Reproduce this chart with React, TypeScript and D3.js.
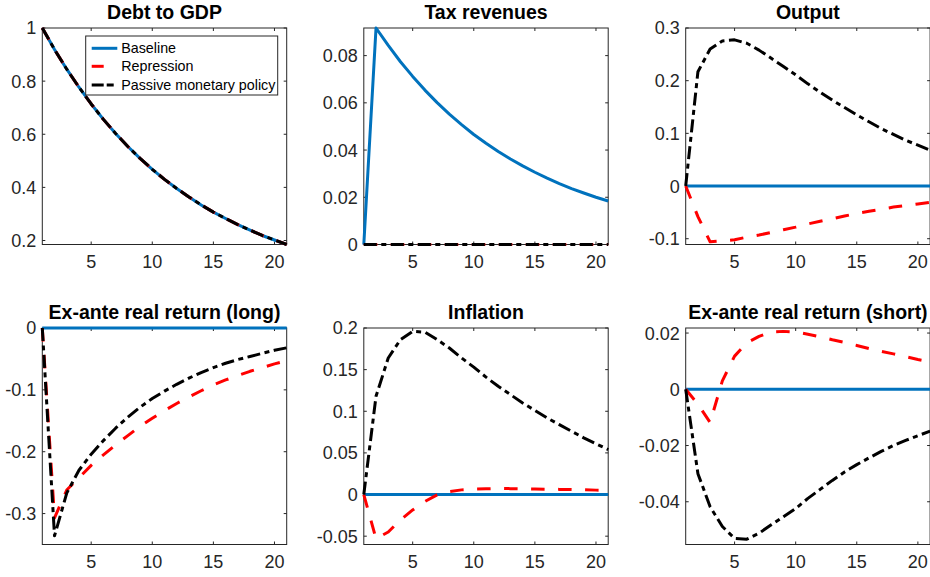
import React, { useEffect, useRef } from 'react';
import * as d3 from 'd3';

// horizon (quarters)
const periods = [1, 2, 3, 4, 5, 6, 7, 8, 9, 10, 11, 12, 13, 14, 15, 16, 17, 18, 19, 20, 21];
const xTicks = [5, 10, 15, 20];

const seriesNames = ['Baseline', 'Repression', 'Passive monetary policy'];

const zeros = [0, 0, 0, 0, 0, 0, 0, 0, 0, 0, 0, 0, 0, 0, 0, 0, 0, 0, 0, 0, 0];

// Debt to GDP (all three scenarios coincide)
const debtPath = [1, 0.919, 0.845, 0.777, 0.714, 0.656, 0.603, 0.554, 0.509, 0.468, 0.43, 0.396, 0.364, 0.334, 0.307, 0.283, 0.26, 0.239, 0.219, 0.202, 0.185];

// Tax revenues
const taxBaseline = [0, 0.0917, 0.0843, 0.0774, 0.0712, 0.0654, 0.0601, 0.0552, 0.0508, 0.0466, 0.0429, 0.0394, 0.0362, 0.0333, 0.0306, 0.0281, 0.0258, 0.0237, 0.0218, 0.02, 0.0184];

// Output
const outputRepression = [0, -0.058, -0.106, -0.104, -0.102, -0.097, -0.093, -0.088, -0.083, -0.078, -0.072, -0.067, -0.062, -0.057, -0.052, -0.048, -0.044, -0.04, -0.037, -0.034, -0.031];
const outputPassive = [0, 0.217, 0.26, 0.2755, 0.2775, 0.271, 0.258, 0.2425, 0.227, 0.211, 0.194, 0.178, 0.163, 0.149, 0.135, 0.122, 0.109, 0.098, 0.087, 0.0775, 0.068];

// Ex-ante real return (long)
const longRepression = [0, -0.307, -0.262, -0.242, -0.222, -0.205, -0.189, -0.174, -0.159, -0.146, -0.1335, -0.122, -0.1115, -0.1015, -0.092, -0.084, -0.077, -0.07, -0.064, -0.058, -0.053];
const longPassive = [0, -0.336, -0.267, -0.23, -0.204, -0.182, -0.162, -0.144, -0.128, -0.114, -0.102, -0.091, -0.081, -0.072, -0.064, -0.057, -0.051, -0.046, -0.041, -0.036, -0.032];

// Inflation
const inflRepression = [0, -0.053, -0.045, -0.0305, -0.0185, -0.0084, -0.0004, 0.0036, 0.0056, 0.0064, 0.0069, 0.0072, 0.0071, 0.0068, 0.0066, 0.0064, 0.0062, 0.006, 0.0057, 0.0053, 0.005];
const inflPassive = [0, 0.118, 0.164, 0.186, 0.196, 0.195, 0.186, 0.176, 0.164, 0.153, 0.141, 0.13, 0.12, 0.11, 0.101, 0.092, 0.084, 0.076, 0.068, 0.061, 0.054];

// Ex-ante real return (short)
const shortRepression = [0, -0.0053, -0.0118, 0.003, 0.0118, 0.0165, 0.0188, 0.0204, 0.0206, 0.0204, 0.0196, 0.0187, 0.0176, 0.0167, 0.0156, 0.0145, 0.0135, 0.0126, 0.0116, 0.0106, 0.0098];
const shortPassive = [0, -0.03, -0.0418, -0.0488, -0.053, -0.0533, -0.0512, -0.0482, -0.0453, -0.0424, -0.0388, -0.0356, -0.0324, -0.0294, -0.0268, -0.0244, -0.0221, -0.02, -0.0182, -0.0165, -0.0149];

const panels = [
  { title: 'Debt to GDP', yDomain: [0.185, 1], yTicks: [0.2, 0.4, 0.6, 0.8, 1], series: [debtPath, debtPath, debtPath] },
  { title: 'Tax revenues', yDomain: [0, 0.0917], yTicks: [0, 0.02, 0.04, 0.06, 0.08], series: [taxBaseline, zeros, zeros] },
  { title: 'Output', yDomain: [-0.111, 0.3], yTicks: [-0.1, 0, 0.1, 0.2, 0.3], series: [zeros, outputRepression, outputPassive] },
  { title: 'Ex-ante real return (long)', yDomain: [-0.35, 0], yTicks: [-0.3, -0.2, -0.1, 0], series: [zeros, longRepression, longPassive] },
  { title: 'Inflation', yDomain: [-0.06, 0.2], yTicks: [-0.05, 0, 0.05, 0.1, 0.15, 0.2], series: [zeros, inflRepression, inflPassive] },
  { title: 'Ex-ante real return (short)', yDomain: [-0.0552, 0.0218], yTicks: [-0.04, -0.02, 0, 0.02], series: [zeros, shortRepression, shortPassive] },
];

const W = 930;
const H = 577;
const colLeft = [42.3, 363.8, 685.7];
const rowTop = [28, 328];
const plotW = 244.4;
const plotH = 216.5;

const colors = ['#0072BD', '#FF0000', '#000000'];
const dashes = [null, '13.5,13.5', '13,4.5,5,4.5'];
const axisColor = '#262626';
const font = "'Liberation Sans', Arial, Helvetica, sans-serif";

const App = () => {
  const ref = useRef<SVGSVGElement>(null);

  useEffect(() => {
    const svg = d3.select(ref.current);
    svg.selectAll('*').remove();

    panels.forEach((p, i) => {
      const left = colLeft[i % 3];
      const top = rowTop[Math.floor(i / 3)];

      const x = d3.scaleLinear().domain([1, 21]).range([0, plotW]);
      const y = d3.scaleLinear().domain(p.yDomain).range([plotH, 0]);

      const g = svg.append('g').attr('transform', `translate(${left},${top})`);

      // box
      g.append('rect')
        .attr('width', plotW)
        .attr('height', plotH)
        .attr('fill', 'white')
        .attr('stroke', axisColor)
        .attr('stroke-width', 1);

      // ticks, inward on all four sides
      const tl = 3;
      xTicks.forEach((t) => {
        g.append('line').attr('x1', x(t)).attr('x2', x(t)).attr('y1', plotH).attr('y2', plotH - tl).attr('stroke', axisColor);
        g.append('line').attr('x1', x(t)).attr('x2', x(t)).attr('y1', 0).attr('y2', tl).attr('stroke', axisColor);
        g.append('text')
          .attr('x', x(t))
          .attr('y', plotH + 23)
          .attr('text-anchor', 'middle')
          .attr('font-family', font)
          .attr('font-size', 18)
          .attr('fill', axisColor)
          .text(String(t));
      });
      p.yTicks.forEach((t) => {
        g.append('line').attr('x1', 0).attr('x2', tl).attr('y1', y(t)).attr('y2', y(t)).attr('stroke', axisColor);
        g.append('line').attr('x1', plotW).attr('x2', plotW - tl).attr('y1', y(t)).attr('y2', y(t)).attr('stroke', axisColor);
        g.append('text')
          .attr('x', -6)
          .attr('y', y(t))
          .attr('dy', '0.36em')
          .attr('text-anchor', 'end')
          .attr('font-family', font)
          .attr('font-size', 18)
          .attr('fill', axisColor)
          .text(String(t));
      });

      // lines
      p.series.forEach((vals, k) => {
        const line = d3.line<number>()
          .x((_, j) => x(periods[j]))
          .y((d) => y(d));
        const path = g.append('path')
          .datum(vals)
          .attr('d', line)
          .attr('fill', 'none')
          .attr('stroke', colors[k])
          .attr('stroke-width', 3)
          .attr('stroke-linejoin', 'round');
        if (dashes[k]) path.attr('stroke-dasharray', dashes[k] as string);
      });

      // title
      g.append('text')
        .attr('x', plotW / 2)
        .attr('y', -9)
        .attr('text-anchor', 'middle')
        .attr('font-family', font)
        .attr('font-weight', 'bold')
        .attr('font-size', 19.5)
        .attr('fill', '#000')
        .text(p.title);
    });

    // legend in first panel
    const lg = svg.append('g').attr('transform', 'translate(85.7,36)');
    lg.append('rect')
      .attr('width', 192)
      .attr('height', 59)
      .attr('fill', 'white')
      .attr('stroke', axisColor)
      .attr('stroke-width', 1);
    const rowY = [12.3, 30.3, 49];
    seriesNames.forEach((name, k) => {
      const l = lg.append('line')
        .attr('x1', 6)
        .attr('x2', 31.6)
        .attr('y1', rowY[k])
        .attr('y2', rowY[k])
        .attr('stroke', colors[k])
        .attr('stroke-width', 3);
      if (dashes[k]) l.attr('stroke-dasharray', k === 1 ? '12,14' : '12,3,7,4');
      lg.append('text')
        .attr('x', 35.5)
        .attr('y', rowY[k])
        .attr('dy', '0.36em')
        .attr('font-family', font)
        .attr('font-size', 14.3)
        .attr('fill', '#000')
        .text(name);
    });
  }, []);

  return (
    <svg
      ref={ref}
      width={W}
      height={H}
      style={{ position: 'absolute', left: 0, top: 0, background: 'white' }}
    />
  );
};

export default App;
